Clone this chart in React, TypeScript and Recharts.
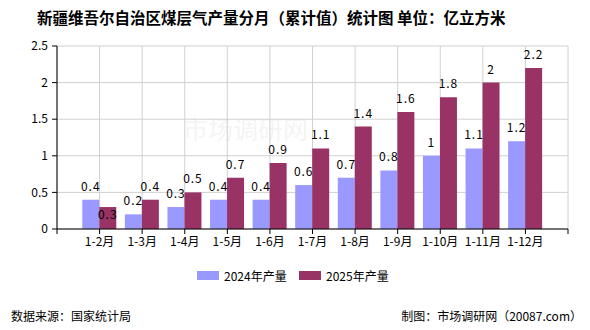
import React from 'react';
import { BarChart, Bar, XAxis, YAxis, CartesianGrid, LabelList } from 'recharts';

const categories = ['1-2月', '1-3月', '1-4月', '1-5月', '1-6月', '1-7月', '1-8月', '1-9月', '1-10月', '1-11月', '1-12月'];
const output2024 = [0.4, 0.2, 0.3, 0.4, 0.4, 0.6, 0.7, 0.8, 1, 1.1, 1.2];
const output2025 = [0.3, 0.4, 0.5, 0.7, 0.9, 1.1, 1.4, 1.6, 1.8, 2, 2.2];
const yTicks = [0, 0.5, 1, 1.5, 2, 2.5];
const xTicks = [0, 1, 2, 3, 4, 5, 6, 7, 8, 9, 10, 11, 12];

const COLOR_2024 = '#9999ff';
const COLOR_2025 = '#993366';
const FONT = "'Noto Sans CJK SC', 'Noto Sans', sans-serif";

// first slot on the axis stays empty, months start at position 1
const data = categories.map((name, i) => ({
  pos: i + 1,
  name,
  y2024: output2024[i],
  y2025: output2025[i]
}));

const valueLabel = (series: 'y2024' | 'y2025') => (props: any) => {
  const { x, y, width, index, value } = props;
  const cx = Number(x) + Number(width) / 2;
  // a shorter 2025 bar would collide with the 2024 label, so its label goes inside
  const inside = series === 'y2025' && output2025[index] < output2024[index];
  return (
    <text
      x={cx}
      y={inside ? Number(y) + 12 : Number(y) - 9}
      textAnchor="middle"
      fill="#000"
      fontSize={12}
      fontFamily={FONT}
      letterSpacing={1}
    >
      {value}
    </text>
  );
};

export default function App() {
  return (
    <div style={{ position: 'relative', width: 590, height: 330, background: '#fff', fontFamily: FONT, color: '#000' }}>
      <style>{'body{margin:0}'}</style>
      <div style={{ position: 'absolute', left: 37, top: 7, fontSize: 15.5, lineHeight: '20px', fontWeight: 'bold', whiteSpace: 'nowrap' }}>
        新疆维吾尔自治区煤层气产量分月（累计值）统计图 单位：亿立方米
      </div>
      <div style={{ position: 'absolute', left: 183, top: 116, fontSize: 25, lineHeight: '25px', color: '#000', opacity: 0.04, whiteSpace: 'nowrap' }}>
        市场调研网
      </div>
      <div style={{ position: 'absolute', left: 0, top: 0 }}>
        <BarChart
          width={590}
          height={330}
          data={data}
          margin={{ top: 46, right: 22, left: 0, bottom: 71 }}
          barGap={0}
        >
          <CartesianGrid stroke="#d0d0d0" strokeWidth={1} />
          <XAxis
            type="number"
            dataKey="pos"
            domain={[0, 12]}
            ticks={xTicks}
            interval={0}
            tickFormatter={(v: number) => categories[v - 1] ?? ''}
            axisLine={{ stroke: '#000' }}
            tickLine={{ stroke: '#000' }}
            tickSize={5}
            tickMargin={3}
            tick={{ fill: '#000', fontSize: 12, fontFamily: FONT }}
            height={30}
          />
          <YAxis
            domain={[0, 2.5]}
            ticks={yTicks}
            interval={0}
            tickFormatter={(v: number) => String(v)}
            axisLine={{ stroke: '#000' }}
            tickLine={{ stroke: '#000' }}
            tickSize={5}
            tickMargin={4}
            tick={{ fill: '#000', fontSize: 12, fontFamily: FONT }}
            width={57}
          />
          <Bar dataKey="y2024" fill={COLOR_2024} barSize={17} isAnimationActive={false}>
            <LabelList dataKey="y2024" content={valueLabel('y2024')} />
          </Bar>
          <Bar dataKey="y2025" fill={COLOR_2025} barSize={17} isAnimationActive={false}>
            <LabelList dataKey="y2025" content={valueLabel('y2025')} />
          </Bar>
        </BarChart>
      </div>
      <div style={{ position: 'absolute', top: 268, left: 0, width: 590, height: 16, fontSize: 12, lineHeight: '16px' }}>
        <div style={{ position: 'absolute', left: 197, top: 3, width: 22, height: 9, background: COLOR_2024 }} />
        <div style={{ position: 'absolute', left: 224, top: 0, whiteSpace: 'nowrap' }}>2024年产量</div>
        <div style={{ position: 'absolute', left: 299, top: 3, width: 22, height: 9, background: COLOR_2025 }} />
        <div style={{ position: 'absolute', left: 326, top: 0, whiteSpace: 'nowrap' }}>2025年产量</div>
      </div>
      <div style={{ position: 'absolute', left: 11, top: 308, fontSize: 12, lineHeight: '16px', whiteSpace: 'nowrap' }}>
        数据来源：国家统计局
      </div>
      <div style={{ position: 'absolute', right: 8, top: 308, fontSize: 12, lineHeight: '16px', whiteSpace: 'nowrap' }}>
        制图：市场调研网（20087.com）
      </div>
    </div>
  );
}
